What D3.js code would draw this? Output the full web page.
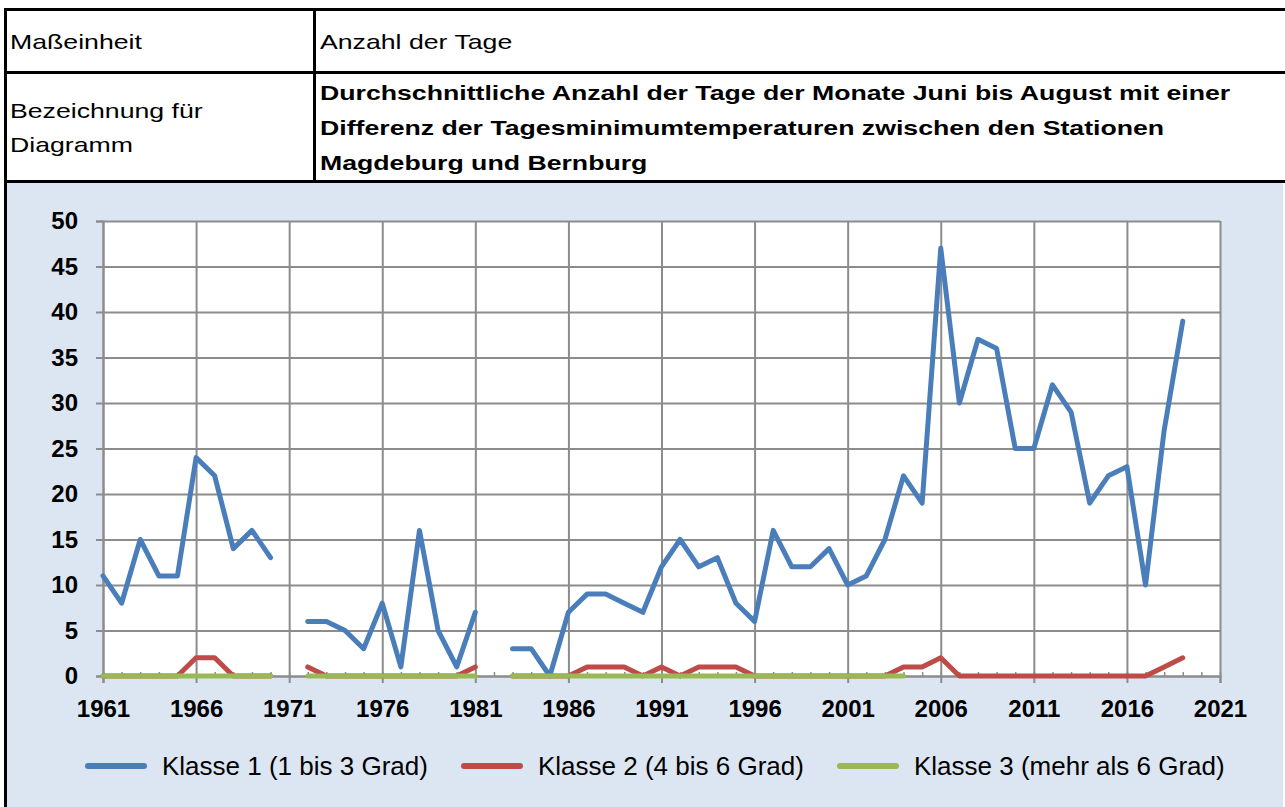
<!DOCTYPE html>
<html>
<head>
<meta charset="utf-8">
<script src="https://cdn.jsdelivr.net/npm/d3@7"></script>
<style>
  body { margin: 0; background: white; }
  svg { display: block; font-family: "Liberation Sans", Arial, sans-serif; }
</style>
</head>
<body>
<div id="chart"></div>
<script>
// data
var years = d3.range(1961, 2020);
var klasse1 = [11, 8, 15, 11, 11, 24, 22, 14, 16, 13, null,
  6, 6, 5, 3, 8, 1, 16, 5, 1, 7, null,
  3, 3, 0, 7, 9, 9, 8, 7, 12, 15, 12, 13, 8, 6, 16, 12, 12, 14,
  10, 11, 15, 22, 19, 47, 30, 37, 36, 25, 25, 32, 29, 19, 22, 23, 10, 27, 39];
var klasse2 = [0, 0, 0, 0, 0, 2, 2, 0, 0, 0, null,
  1, 0, 0, 0, 0, 0, 0, 0, 0, 1, null,
  0, 0, 0, 0, 1, 1, 1, 0, 1, 0, 1, 1, 1, 0, 0, 0, 0, 0,
  0, 0, 0, 1, 1, 2, 0, 0, 0, 0, 0, 0, 0, 0, 0, 0, 0, 1, 2];
var klasse3 = [0, 0, 0, 0, 0, 0, 0, 0, 0, 0, null,
  0, 0, 0, 0, 0, 0, 0, 0, 0, 0, null,
  0, 0, 0, 0, 0, 0, 0, 0, 0, 0, 0, 0, 0, 0, 0, 0, 0, 0,
  0, 0, 0, 0, null, null, null, null, null, null, null, null, null, null, null, null, null, null, null];
var seriesNames = ["Klasse 1 (1 bis 3 Grad)", "Klasse 2 (4 bis 6 Grad)", "Klasse 3 (mehr als 6 Grad)"];
var seriesColors = ["#4a7ebb", "#be4b48", "#98b954"];
var xTicks = d3.range(1961, 2022, 5);
var yTicks = d3.range(0, 51, 5);
var unitLabel = "Maßeinheit";
var unitValue = "Anzahl der Tage";
var titleLabel = ["Bezeichnung für", "Diagramm"];
var titleLines = ["Durchschnittliche Anzahl der Tage der Monate Juni bis August mit einer",
  "Differenz der Tagesminimumtemperaturen zwischen den Stationen",
  "Magdeburg und Bernburg"];

var W = 1285, H = 807;
var svg = d3.select("#chart").append("svg").attr("width", W).attr("height", H);

// header table
svg.append("rect").attr("x", 0).attr("y", 0).attr("width", W).attr("height", H).attr("fill", "white");
svg.append("rect").attr("x", 5).attr("y", 182).attr("width", 1278).attr("height", H - 182).attr("fill", "#dce6f2");
var black = "#000";
[[5.5, 9.5, 1285, 9.5], [5.5, 72.5, 1285, 72.5], [5.5, 181.5, 1285, 181.5]].forEach(function(l) {
  svg.append("line").attr("x1", l[0]).attr("y1", l[1]).attr("x2", l[2]).attr("y2", l[3])
    .attr("stroke", black).attr("stroke-width", 3);
});
svg.append("line").attr("x1", 5.5).attr("y1", 8).attr("x2", 5.5).attr("y2", H).attr("stroke", black).attr("stroke-width", 3);
svg.append("line").attr("x1", 314.5).attr("y1", 8).attr("x2", 314.5).attr("y2", 183).attr("stroke", black).attr("stroke-width", 3);

// header text is drawn a bit wider, like the original
var stretch = 1.27;
function headText(xp, yp, t, bold) {
  svg.append("text").attr("transform", "translate(" + xp + "," + yp + ") scale(" + stretch + ",1)")
    .attr("font-size", 21).attr("font-weight", bold ? "bold" : "normal").text(t);
}
headText(10, 49, unitLabel);
headText(320, 49, unitValue);
titleLabel.forEach(function(t, i) { headText(10, 118 + i * 34, t); });
titleLines.forEach(function(t, i) { headText(320, 100 + i * 35, t, true); });

// chart
var left = 103, right = 1220, plotTop = 221, bottom = 676;
var x = d3.scaleLinear().domain([1961, 2021]).range([left, right]);
var y = d3.scaleLinear().domain([0, 50]).range([bottom, plotTop]);

svg.append("rect").attr("x", left).attr("y", plotTop).attr("width", right - left).attr("height", bottom - plotTop).attr("fill", "white");

var grid = "#8c8c8c";
svg.append("g").attr("transform", "translate(0," + bottom + ")")
  .call(d3.axisBottom(x).tickValues(xTicks).tickSize(-(bottom - plotTop)).tickFormat(""))
  .call(function(g) {
    g.select(".domain").remove();
    g.selectAll("line").attr("stroke", grid).attr("stroke-width", 2);
  });
svg.append("g").attr("transform", "translate(" + left + ",0)")
  .call(d3.axisLeft(y).tickValues(yTicks).tickSize(-(right - left)).tickFormat(""))
  .call(function(g) {
    g.select(".domain").remove();
    g.selectAll("line").attr("stroke", grid).attr("stroke-width", 2);
  });

// minor ticks (each year)
svg.append("g").attr("transform", "translate(0," + bottom + ")")
  .call(d3.axisBottom(x).tickValues(d3.range(1961, 2022)).tickSize(-4).tickFormat(""))
  .call(function(g) {
    g.select(".domain").remove();
    g.selectAll("line").attr("stroke", grid).attr("stroke-width", 1.5);
  });

// x axis
svg.append("g").attr("transform", "translate(0," + bottom + ")")
  .call(d3.axisBottom(x).tickValues(xTicks).tickSize(7).tickPadding(17).tickFormat(d3.format("d")))
  .call(function(g) {
    g.select(".domain").attr("stroke", grid).attr("stroke-width", 2);
    g.selectAll("line").attr("stroke", grid).attr("stroke-width", 2);
    g.selectAll("text").attr("font-size", 24).attr("font-weight", "bold").attr("fill", "#000")
      .attr("font-family", "Liberation Sans, Arial, sans-serif");
  });

// y axis
svg.append("g").attr("transform", "translate(" + left + ",0)")
  .call(d3.axisLeft(y).tickValues(yTicks).tickSize(7).tickPadding(18))
  .call(function(g) {
    g.select(".domain").attr("stroke", grid).attr("stroke-width", 2);
    g.selectAll("line").attr("stroke", grid).attr("stroke-width", 2);
    g.selectAll("text").attr("font-size", 24).attr("font-weight", "bold").attr("fill", "#000")
      .attr("font-family", "Liberation Sans, Arial, sans-serif");
  });

// lines
var line = d3.line()
  .defined(function(d) { return d[1] != null; })
  .x(function(d) { return x(d[0]); })
  .y(function(d) { return y(d[1]); });

[klasse1, klasse2, klasse3].forEach(function(vals, i) {
  var pts = years.map(function(yr, j) { return [yr, vals[j]]; });
  svg.append("path").datum(pts)
    .attr("d", line)
    .attr("fill", "none")
    .attr("stroke", seriesColors[i])
    .attr("stroke-width", 5)
    .attr("stroke-linecap", "round")
    .attr("stroke-linejoin", "round");
});

// legend
var legendX = [88, 464, 840];
seriesNames.forEach(function(n, i) {
  var g = svg.append("g").attr("transform", "translate(" + legendX[i] + ",766)");
  g.append("line").attr("x1", 0).attr("x2", 56).attr("y1", 0).attr("y2", 0)
    .attr("stroke", seriesColors[i]).attr("stroke-width", 6).attr("stroke-linecap", "round");
  g.append("text").attr("x", 74).attr("y", 9).attr("font-size", 26).text(n);
});
</script>
</body>
</html>
